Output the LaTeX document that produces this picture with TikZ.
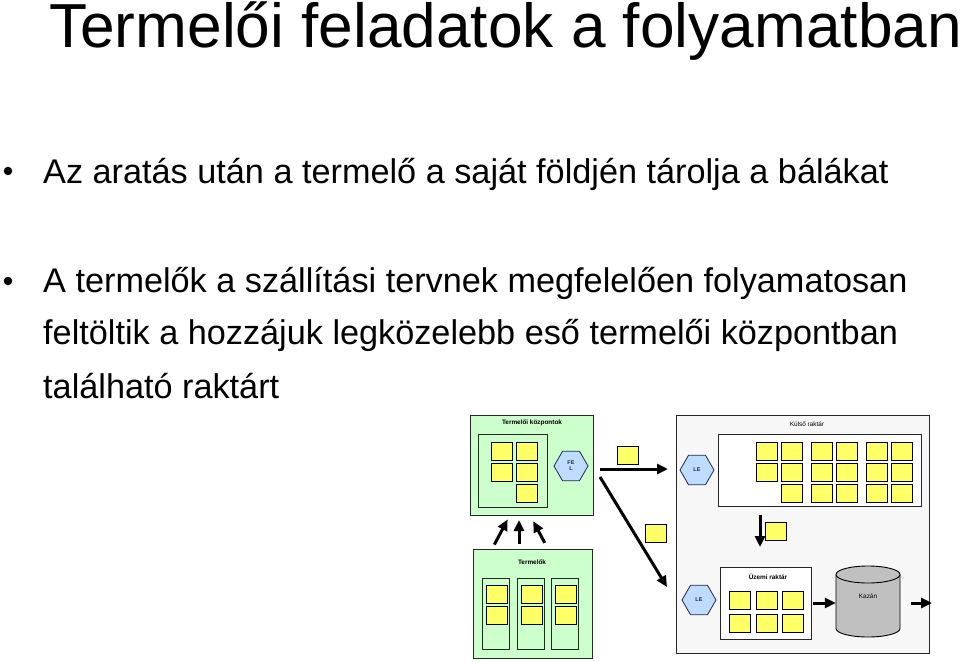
\documentclass[tikz,border=0pt]{standalone}
\usepackage{fontspec}
\setmainfont{Liberation Sans}
\usetikzlibrary{%
	positioning,
	calc,
	arrows.meta,
	shapes.geometric
}
\definecolor{boxgreen}{RGB}{204,255,204}
\definecolor{baleyellow}{RGB}{255,255,102}
\definecolor{storegray}{RGB}{247,247,247}
\definecolor{kazangray}{RGB}{192,192,192}
\definecolor{hexfill}{RGB}{190,220,255}
\definecolor{hexline}{RGB}{30,40,80}

\begin{document}
\begin{tikzpicture}[x=1pt,y=-1pt,
		heading/.style={anchor=base west,inner sep=0pt,font=\fontsize{62.2}{70}\selectfont},
		itemtext/.style={anchor=base west,inner sep=0pt,font=\fontsize{34.25}{40}\selectfont},
		itemdot/.style={circle,fill=black,inner sep=0pt,minimum size=8.5pt},
		panel/.style={draw=black!85,line width=0.9pt,inner sep=0pt,outer sep=0pt},
		greenpanel/.style={panel,fill=boxgreen},
		caption/.style={inner sep=0pt,font=\fontsize{6.4}{7}\selectfont\bfseries},
		bale/.style={draw,fill=baleyellow,line width=0.9pt,minimum width=21pt,minimum height=18pt,inner sep=0pt},
		station/.style={regular polygon,regular polygon sides=6,draw=hexline,fill=hexfill,line width=0.8pt,minimum size=34pt,inner sep=0pt,align=center,text=hexline,font=\fontsize{5.5}{6}\selectfont\bfseries},
		flow/.style={->,line width=3pt},
		>={Triangle[length=11pt,width=10pt]}
	]
	\useasboundingbox (0,0) rectangle (960,661);

		\node(head) [heading] at (49,48) {Termelői feladatok a folyamatban};
		\node(dot1) [itemdot] at (8,171) {};
		\node(item1) [itemtext] at (43,183) {Az aratás után a termelő a saját földjén tárolja a bálákat};
		\node(dot2) [itemdot] at (8,281) {};
		\node(item2) [itemtext] at (43,292) {A termelők a szállítási tervnek megfelelően folyamatosan};
		\node(item2b) [itemtext] at (43,344) {feltöltik a hozzájuk legközelebb eső termelői központban};
		\node(item2c) [itemtext] at (43,398) {található raktárt};

		% termeloi kozpontok
		\node(tk) [greenpanel,minimum width=123pt,minimum height=100pt] at (531.5,465) {};
		\node(tk-title) [caption] at (532,423) {Termelői központok};
		\node(tk-in) [panel,minimum width=69pt,minimum height=73pt] at (512.5,470.5) {};
		\foreach \x/\y [count=\i] in {501.5/451,527/451,501.5/472.5,527/472.5,527/493.5}
			\node(tk-bale\i) [bale] at (\x,\y) {};
		\node(fel) [station] at (571,466) {FE\\L};

		% kulso raktar
		\node(kr) [panel,fill=storegray,minimum width=253pt,minimum height=238pt] at (802.5,534) {};
		\node(kr-title) [caption,font=\fontsize{6.4}{7}\selectfont] at (807,424) {Külső raktár};
		\node(kr-in) [panel,fill=white,minimum width=203pt,minimum height=72pt] at (819.5,470) {};
		\foreach \x [count=\i] in {766.5,792,822,846.5,876.5,901.5}{
			\node(kr-bale-a\i) [bale] at (\x,451) {};
			\node(kr-bale-b\i) [bale] at (\x,472.5) {};
			\ifnum\i>1 \node(kr-bale-c\i) [bale] at (\x,493.5) {}; \fi
		}
		\node(le1) [station] at (697,470) {LE};

		% uzemi raktar es kazan
		\node(le2) [station] at (699,600) {LE};
		\node(uz) [panel,fill=white,minimum width=91pt,minimum height=72pt] at (765.5,603) {};
		\node(uz-title) [caption] at (768,577) {Üzemi raktár};
		\foreach \x [count=\i] in {740,766.5,792.5}{
			\node(uz-bale-a\i) [bale] at (\x,600.5) {};
			\node(uz-bale-b\i) [bale] at (\x,623) {};
		}
		\node(kazan) [minimum width=64pt,minimum height=71pt,inner sep=0pt] at (868,601.5) {};
		\draw[line width=0.9pt,fill=kazangray] (836,574.5) -- (836,628.5)
			arc[start angle=180,end angle=0,x radius=32,y radius=8.5] -- (900,574.5)
			arc[start angle=0,end angle=-180,x radius=32,y radius=8.5] -- cycle;
		\draw[line width=0.9pt] (836,574.5) arc[start angle=180,end angle=0,x radius=32,y radius=8.5];
		\node(kazan-title) [caption,font=\fontsize{6.4}{7}\selectfont] at (868,596) {Kazán};

		% termelok
		\node(term) [greenpanel,minimum width=119pt,minimum height=109pt] at (532.5,603.5) {};
		\node(term-title) [caption] at (532,562) {Termelők};
		\foreach \x [count=\i] in {495.5,530.5,565}{
			\node(term-col\i) [greenpanel,minimum width=27pt,minimum height=71pt] at (\x,613.5) {};
			\node(term-bale-a\i) [bale] at (\x+1,594.5) {};
			\node(term-bale-b\i) [bale] at (\x+1,615.5) {};
		}

		% arrows
		\coordinate(a1-start) at (600,469);
		\coordinate(a1-end) at (668,469);
		\coordinate(a2-start) at (600,477);
		\coordinate(a2-end) at (667,587);
		\coordinate(a3-start) at (760,515);
		\coordinate(a3-end) at (760,547);
		\coordinate(out) at (932,603);
		\draw[flow] (a1-start) -- (a1-end);
		\node(a1-bale) [bale] at (627.5,455) {};
		\draw[flow] (a2-start) -- (a2-end);
		\node(a2-bale) [bale] at (656,533.5) {};
		\draw[flow] (a3-start) -- (a3-end);
		\node(a3-bale) [bale] at (775.5,531.5) {};
		\draw[flow,shorten <=2pt] (uz.east) -- (uz.east -| kazan.west);
		\draw[flow,shorten <=11pt] (kazan.east |- out) -- (out);
		\draw[flow,shorten <=5pt,shorten >=5pt] ([xshift=-40.5pt]term.north) -- ([xshift=-21.5pt]tk.south);
		\draw[flow,shorten <=5pt,shorten >=5pt] ([xshift=-13.5pt]term.north) -- ([xshift=-12.5pt]tk.south);
		\draw[flow,shorten <=7pt,shorten >=7pt] ([xshift=15.5pt]term.north) -- ([xshift=-1.5pt]tk.south);

\end{tikzpicture}
\end{document}
